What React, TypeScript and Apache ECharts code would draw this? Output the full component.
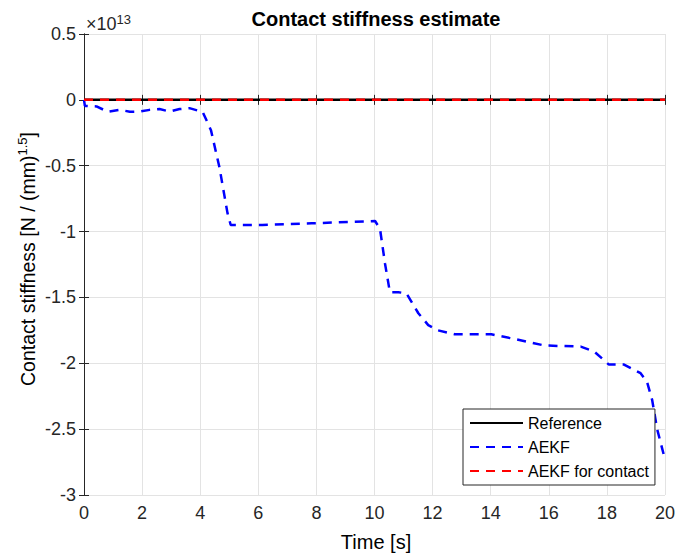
import React, { useEffect, useRef } from "react";
import * as echarts from "echarts";

const xTicks = [0, 2, 4, 6, 8, 10, 12, 14, 16, 18, 20];
const yTicks = [-3, -2.5, -2, -1.5, -1, -0.5, 0, 0.5];
const refT = [0, 20];
const refV = [0, 0];
const aekfT = [0, 0.03, 0.43, 0.82, 1.23, 1.58, 1.92, 2.26, 2.6, 2.95, 3.29, 3.63, 3.9, 4.08, 4.37, 4.66, 4.94, 5.05, 6.14, 7.84, 10.02, 10.19, 10.36, 10.53, 10.82, 11.1, 11.51, 11.85, 12.19, 12.76, 14.02, 14.7, 15.85, 17.1, 17.56, 18.07, 18.59, 19.16, 19.38, 19.56, 19.73, 20];
const aekfV = [0, -0.046, -0.05, -0.09, -0.076, -0.09, -0.089, -0.076, -0.07, -0.089, -0.07, -0.063, -0.08, -0.089, -0.23, -0.51, -0.86, -0.95, -0.95, -0.937, -0.92, -0.98, -1.24, -1.46, -1.46, -1.47, -1.62, -1.71, -1.75, -1.78, -1.78, -1.81, -1.865, -1.873, -1.91, -2.01, -2.01, -2.075, -2.14, -2.28, -2.5, -2.73];
const contactT = [0, 20];
const contactV = [0, 0];

const pairs = (t: number[], v: number[]) => t.map((x, i) => [x, v[i]]);

export default function App() {
  const ref = useRef<HTMLDivElement>(null);
  useEffect(() => {
    document.body.style.margin = "0";
    const chart = echarts.init(ref.current!, undefined, { renderer: "svg" });
    const font = "Helvetica, Arial, 'Liberation Sans', sans-serif";
    const axisCommon = {
      axisLine: { show: true, lineStyle: { color: "#262626", width: 1 } },
      axisTick: { show: true, inside: true, length: 5, lineStyle: { color: "#262626" } },
    };
    chart.setOption({
      animation: false,
      backgroundColor: "#fff",
      textStyle: { fontFamily: font },
      grid: { left: 84, top: 34, width: 584, height: 461, containLabel: false },
      xAxis: [
        {
          type: "value", min: 0, max: 20, interval: 2,
          ...axisCommon,
          axisLabel: { color: "#262626", fontSize: 18, margin: 9 },
          splitLine: { show: true, lineStyle: { color: "#e3e3e3", width: 1 } },
        },
        {
          type: "value", min: 0, max: 20, interval: 2, position: "top",
          ...axisCommon,
          axisLabel: { show: false },
          splitLine: { show: false },
        },
      ],
      yAxis: [
        {
          type: "value", min: -3, max: 0.5, interval: 0.5,
          ...axisCommon,
          axisLabel: { color: "#262626", fontSize: 18, margin: 8 },
          splitLine: { show: true, lineStyle: { color: "#e3e3e3", width: 1 } },
        },
        {
          type: "value", min: -3, max: 0.5, interval: 0.5, position: "right",
          ...axisCommon,
          axisLabel: { show: false },
          splitLine: { show: false },
        },
      ],
      legend: {
        orient: "vertical",
        left: 463,
        top: 409,
        width: 191,
        itemWidth: 53,
        itemHeight: 14,
        itemGap: 8,
        padding: [6, 6, 6, 6],
        borderColor: "#262626",
        borderWidth: 1,
        borderRadius: 0,
        backgroundColor: "#fff",
        itemStyle: { opacity: 0 },
        textStyle: { fontSize: 16, color: "#000", fontFamily: font, padding: [0, 0, 0, 0] },
        data: ["Reference", "AEKF", "AEKF for contact"],
      },
      graphic: [
        {
          type: "text", x: 376, y: 19,
          style: {
            text: "Contact stiffness estimate", fontSize: 20, fontWeight: "bold", fill: "#000",
            fontFamily: font, align: "center", verticalAlign: "middle",
          },
        },
        {
          type: "text", x: 86, y: 24,
          style: {
            text: "{a|×10}{b|13}",
            verticalAlign: "middle",
            rich: {
              a: { fontSize: 18, fill: "#262626", fontFamily: font },
              b: { fontSize: 13, fill: "#262626", fontFamily: font, padding: [0, 0, 10, 0] },
            },
          },
        },
        {
          type: "text", x: 28, y: 259, rotation: Math.PI / 2,
          style: {
            text: "{a|Contact stiffness [N / (mm)}{b|1.5}{a|]}",
            align: "center", verticalAlign: "middle",
            rich: {
              a: { fontSize: 19.5, fill: "#000", fontFamily: font },
              b: { fontSize: 13, fill: "#000", fontFamily: font, padding: [0, 0, 12, 0] },
            },
          },
        },
        {
          type: "text", x: 376, y: 542,
          style: { text: "Time [s]", fontSize: 20, fill: "#000", fontFamily: font, align: "center", verticalAlign: "middle" },
        },
      ],
      series: [
        {
          name: "Reference", type: "line", data: pairs(refT, refV), showSymbol: false, symbol: "none",
          lineStyle: { color: "#000", width: 2.5, type: "solid" }, itemStyle: { color: "#000" },
        },
        {
          name: "AEKF", type: "line", data: pairs(aekfT, aekfV), showSymbol: false, symbol: "none",
          lineStyle: { color: "#0000ff", width: 2.5, type: [9, 7] }, itemStyle: { color: "#0000ff" },
        },
        {
          name: "AEKF for contact", type: "line", data: pairs(contactT, contactV), showSymbol: false, symbol: "none",
          lineStyle: { color: "#ff0000", width: 2.5, type: [9, 7] }, itemStyle: { color: "#ff0000" },
        },
      ],
    });
    return () => chart.dispose();
  }, []);
  return <div ref={ref} style={{ width: 678, height: 556 }} />;
}
